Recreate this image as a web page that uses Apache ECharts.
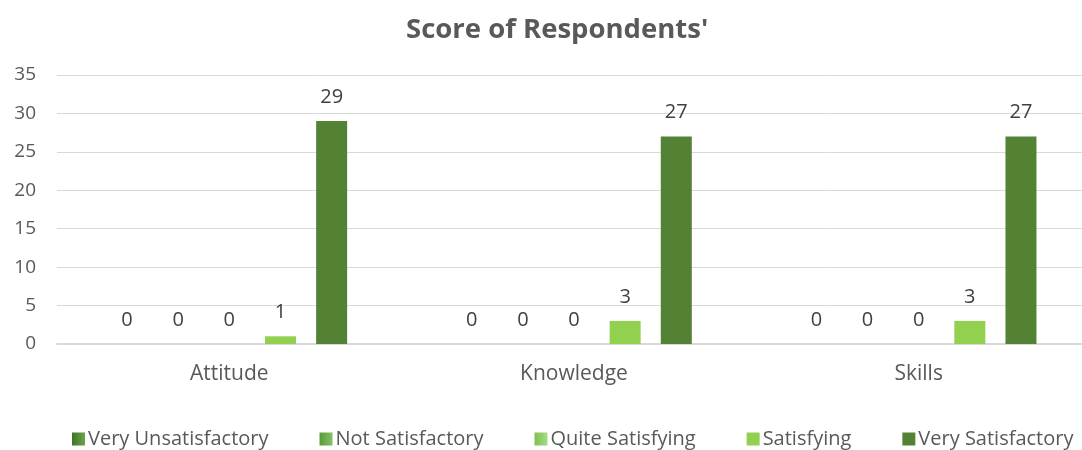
<!DOCTYPE html>
<html>
<head>
<meta charset="utf-8">
<script src="https://cdn.jsdelivr.net/npm/echarts@6/dist/echarts.min.js"></script>
<style>
  html, body { margin: 0; padding: 0; background: #fff; }
  #chart { width: 1082px; height: 450px; }
</style>
</head>
<body>
<div id="chart"></div>
<script>
var categories = ['Attitude', 'Knowledge', 'Skills']
var seriesNames = ['Very Unsatisfactory', 'Not Satisfactory', 'Quite Satisfying', 'Satisfying', 'Very Satisfactory']
var veryUnsatisfactory = [0, 0, 0]
var notSatisfactory = [0, 0, 0]
var quiteSatisfying = [0, 0, 0]
var satisfying = [1, 3, 3]
var verySatisfactory = [29, 27, 27]
var yTicks = [0, 5, 10, 15, 20, 25, 30, 35]

var FONT = '"Open Sans", "Noto Sans", sans-serif'

function grad(a, b) {
  return new echarts.graphic.LinearGradient(0, 0, 1, 0, [
    { offset: 0, color: a },
    { offset: 1, color: b }
  ])
}

var colors = [
  grad('#3d7526', '#6aa549'),
  grad('#5a9a3a', '#86c064'),
  grad('#7fc055', '#a8db86'),
  '#92d050',
  '#548235'
]
var values = [veryUnsatisfactory, notSatisfactory, quiteSatisfying, satisfying, verySatisfactory]

var chart = echarts.init(document.getElementById('chart'))
var option = {
  animation: false,
  title: {
    text: "Score of Respondents'",
    left: 401,
    top: 11,
    textStyle: {
      fontFamily: FONT,
      fontSize: 27.5,
      fontWeight: 'bold',
      color: '#595959'
    }
  },
  legend: {
    bottom: 1,
    left: 72,
    width: 1010,
    padding: 0,
    itemWidth: 13,
    itemHeight: 13,
    itemGap: 51,
    icon: 'rect',
    textStyle: {
      fontFamily: FONT,
      fontSize: 20,
      color: '#595959',
      padding: [0, 0, 0, -2]
    },
    data: seriesNames
  },
  grid: {
    left: 57,
    right: -9,
    top: 75,
    bottom: 106,
    outerBoundsMode: 'none'
  },
  xAxis: {
    type: 'category',
    data: categories,
    axisTick: { show: false },
    axisLine: { lineStyle: { color: '#d9d9d9', width: 2 } },
    axisLabel: {
      fontFamily: FONT,
      fontSize: 21,
      color: '#595959',
      margin: 20
    }
  },
  yAxis: {
    type: 'value',
    min: yTicks[0],
    max: yTicks[yTicks.length - 1],
    interval: 5,
    axisLine: { show: false },
    axisTick: { show: false },
    splitLine: { lineStyle: { color: '#d9d9d9', width: 1 } },
    axisLabel: {
      fontFamily: FONT,
      fontSize: 19,
      color: '#595959',
      margin: 21
    }
  },
  series: seriesNames.map(function (name, i) {
    return {
      name: name,
      type: 'bar',
      data: values[i],
      barWidth: 31,
      barGap: '65%',
      itemStyle: { color: colors[i] },
      label: {
        show: true,
        position: 'top',
        distance: 14,
        fontFamily: FONT,
        fontSize: 20,
        color: '#404040'
      }
    }
  })
}
chart.setOption(option)
window.addEventListener('resize', function () {
  chart.resize()
})
</script>
</body>
</html>
